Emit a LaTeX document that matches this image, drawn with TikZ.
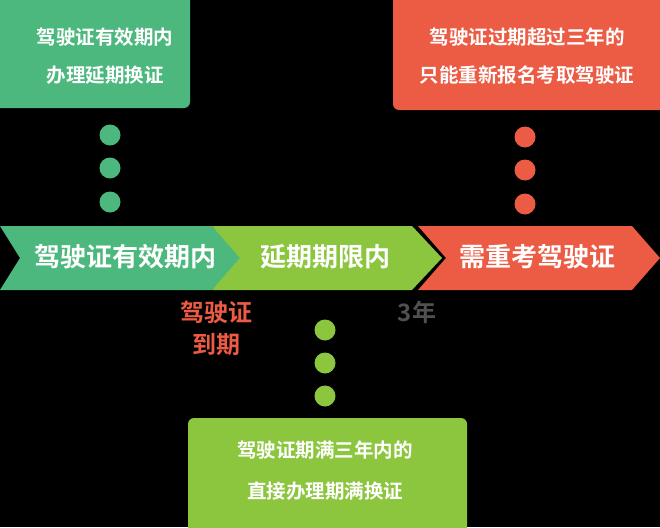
\documentclass[tikz,border=0pt]{standalone}
\usepackage{fontspec}
\newfontfamily\cjk{Noto Sans CJK SC Bold}
\definecolor{gA}{HTML}{4DB87E}
\definecolor{gB}{HTML}{8CC63F}
\definecolor{rC}{HTML}{EC5B43}
\definecolor{gray3}{HTML}{505050}
\begin{document}
\begin{tikzpicture}[x=1pt,y=-1pt,
  box/.style={rounded corners=6pt},
  wt/.style={text=white,font=\cjk\fontsize{19.5}{20}\selectfont},
  big/.style={text=white,font=\cjk\fontsize{26}{26}\selectfont},
  lab/.style={font=\cjk\fontsize{24}{24}\selectfont},
  dot/.style={circle,inner sep=0pt,minimum size=21pt}]
\fill[black] (0,0) rectangle (660,527);
\useasboundingbox (0,0) rectangle (660,527);
% boxes
\fill[gA,box] (-8,-8) rectangle (190,108);
\fill[rC,box] (393,-8) rectangle (668,110);
\fill[gB,box] (188,418) rectangle (467,535);
\node[wt] (t1) at (105,37) {驾驶证有效期内};
\node[wt] (t2) at (105,75) {办理延期换证};
\node[wt] (t3) at (527,37) {驾驶证过期超过三年的};
\node[wt] (t4) at (527,75) {只能重新报名考取驾驶证};
\node[wt] (t5) at (325,450) {驾驶证期满三年内的};
\node[wt] (t6) at (325,491) {直接办理期满换证};
% dots
\foreach \y [count=\i] in {135,168,202}{\node[dot,fill=gA] (dg\i) at (110,\y) {};}
\foreach \y [count=\i] in {137,170,204}{\node[dot,fill=rC] (dr\i) at (525,\y) {};}
\foreach \y [count=\i] in {330,363,396}{\node[dot,fill=gB] (dl\i) at (325,\y) {};}
% chevrons
\fill[gA] (0,226) -- (212,226) -- (242,258) -- (212,290) -- (0,290) -- (20,258) -- cycle;
\fill[gB] (212,226) -- (412,226) -- (442,258) -- (412,290) -- (212,290) -- (240,258) -- cycle;
\fill[rC] (418,226) -- (632,226) -- (660,258) -- (632,290) -- (418,290) -- (446,258) -- cycle;
\node[big] (c1) at (125,257) {驾驶证有效期内};
\node[big] (c2) at (325,257) {延期期限内};
\node[big] (c3) at (537,257) {需重考驾驶证};
\node[lab,text=rC] (l1) at (216,312) {驾驶证};
\node[lab,text=rC] (l2) at (216,345) {到期};
\node[lab,text=gray3] (l3) at (417,312) {3年};
\end{tikzpicture}
\end{document}
